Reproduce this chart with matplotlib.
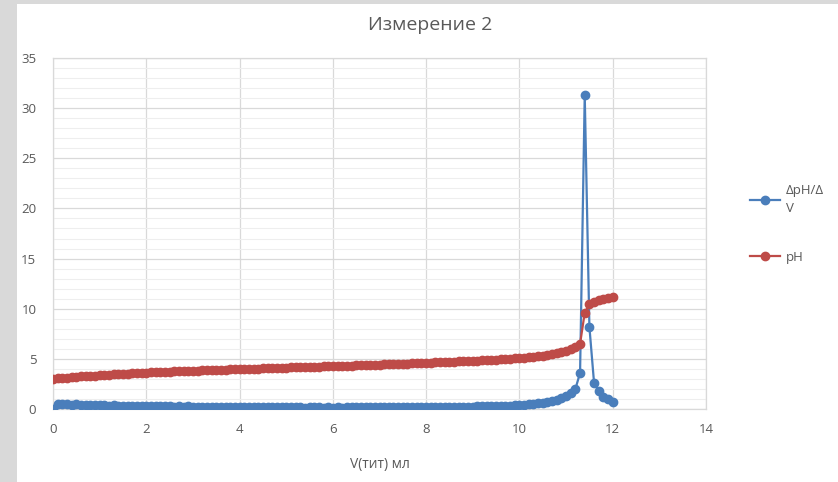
import matplotlib
matplotlib.use("Agg")
import matplotlib.pyplot as plt
from matplotlib.patches import Rectangle

plt.rcParams['font.family'] = ['Open Sans', 'DejaVu Sans']

volume = [0.0, 0.1, 0.2, 0.3, 0.4, 0.5, 0.6, 0.7, 0.8, 0.9,
          1.0, 1.1, 1.2, 1.3, 1.4, 1.5, 1.6, 1.7, 1.8, 1.9,
          2.0, 2.1, 2.2, 2.3, 2.4, 2.5, 2.6, 2.7, 2.8, 2.9,
          3.0, 3.1, 3.2, 3.3, 3.4, 3.5, 3.6, 3.7, 3.8, 3.9,
          4.0, 4.1, 4.2, 4.3, 4.4, 4.5, 4.6, 4.7, 4.8, 4.9,
          5.0, 5.1, 5.2, 5.3, 5.4, 5.5, 5.6, 5.7, 5.8, 5.9,
          6.0, 6.1, 6.2, 6.3, 6.4, 6.5, 6.6, 6.7, 6.8, 6.9,
          7.0, 7.1, 7.2, 7.3, 7.4, 7.5, 7.6, 7.7, 7.8, 7.9,
          8.0, 8.1, 8.2, 8.3, 8.4, 8.5, 8.6, 8.7, 8.8, 8.9,
          9.0, 9.1, 9.2, 9.3, 9.4, 9.5, 9.6, 9.7, 9.8, 9.9,
          10.0, 10.1, 10.2, 10.3, 10.4, 10.5, 10.6, 10.7, 10.8, 10.9,
          11.0, 11.1, 11.2, 11.3, 11.4, 11.5, 11.6, 11.7, 11.8, 11.9,
          12.0]

dph_dv = [0.00, 0.50, 0.45, 0.48, 0.42, 0.45, 0.40, 0.38, 0.41, 0.36,
          0.40, 0.38, 0.33, 0.36, 0.30, 0.34, 0.30, 0.32, 0.28, 0.31,
          0.27, 0.30, 0.26, 0.28, 0.25, 0.27, 0.24, 0.26, 0.22, 0.25,
          0.22, 0.23, 0.20, 0.22, 0.19, 0.21, 0.19, 0.22, 0.18, 0.20,
          0.17, 0.20, 0.17, 0.19, 0.16, 0.18, 0.16, 0.18, 0.15, 0.17,
          0.15, 0.17, 0.15, 0.16, 0.14, 0.16, 0.15, 0.17, 0.14, 0.16,
          0.14, 0.16, 0.14, 0.16, 0.15, 0.17, 0.15, 0.17, 0.15, 0.17,
          0.15, 0.17, 0.16, 0.18, 0.16, 0.18, 0.17, 0.19, 0.17, 0.19,
          0.18, 0.20, 0.19, 0.21, 0.20, 0.22, 0.21, 0.23, 0.22, 0.24,
          0.24, 0.26, 0.26, 0.28, 0.28, 0.30, 0.31, 0.33, 0.34, 0.37,
          0.39, 0.42, 0.46, 0.50, 0.55, 0.62, 0.70, 0.80, 0.92, 1.10,
          1.30, 1.60, 2.00, 3.60, 31.30, 8.20, 2.60, 1.80, 1.20, 1.00,
          0.70]

ph = [3.00, 3.05, 3.09, 3.13, 3.17, 3.21, 3.25, 3.28, 3.31, 3.34,
      3.37, 3.40, 3.43, 3.46, 3.48, 3.51, 3.53, 3.56, 3.58, 3.60,
      3.62, 3.64, 3.66, 3.68, 3.70, 3.72, 3.74, 3.76, 3.77, 3.79,
      3.81, 3.83, 3.84, 3.86, 3.88, 3.89, 3.91, 3.93, 3.94, 3.96,
      3.97, 3.99, 4.00, 4.02, 4.03, 4.05, 4.06, 4.08, 4.09, 4.11,
      4.12, 4.14, 4.15, 4.17, 4.18, 4.20, 4.21, 4.23, 4.24, 4.26,
      4.27, 4.29, 4.30, 4.32, 4.33, 4.35, 4.36, 4.38, 4.40, 4.41,
      4.43, 4.44, 4.46, 4.48, 4.49, 4.51, 4.53, 4.55, 4.56, 4.58,
      4.60, 4.62, 4.64, 4.66, 4.68, 4.70, 4.72, 4.74, 4.76, 4.78,
      4.80, 4.83, 4.85, 4.88, 4.90, 4.93, 4.96, 4.99, 5.02, 5.05,
      5.09, 5.13, 5.17, 5.22, 5.27, 5.33, 5.40, 5.48, 5.57, 5.68,
      5.81, 5.97, 6.17, 6.50, 9.60, 10.45, 10.68, 10.85, 10.96, 11.05,
      11.12]

series_labels = ["ΔpH/Δ\nV", "pH"]
title = "Измерение 2"
xlabel = "V(тит) мл"

blue = "#4a7ebb"
red = "#be4b48"
text_col = "#595959"

fig = plt.figure(figsize=(8.38, 4.82), dpi=100)
fig.patch.set_facecolor("#d9d9d9")
bg = Rectangle((17 / 838, 0), 1 - 17 / 838, 1 - 4 / 482,
               transform=fig.transFigure, facecolor="white",
               edgecolor="none", zorder=-10)
fig.add_artist(bg)

ax = fig.add_axes([53 / 838, 1 - 409 / 482, (706 - 53) / 838, (409 - 58) / 482])
ax.set_facecolor("white")
ax.set_zorder(1)

ax.plot(volume, dph_dv, color=blue, lw=1.6, marker="o", ms=6,
        label=series_labels[0], zorder=3)
ax.plot(volume, ph, color=red, lw=1.6, marker="o", ms=6,
        label=series_labels[1], zorder=4)

ax.set_xlim(0, 14)
ax.set_ylim(0, 35)
ax.set_xticks(range(0, 15, 2))
ax.set_yticks(range(0, 36, 5))
ax.set_yticks(range(0, 36, 1), minor=True)
ax.grid(which="major", color="#d9d9d9", lw=0.9, zorder=0)
ax.grid(which="minor", axis="y", color="#eeeeee", lw=0.8, zorder=0)
ax.grid(which="minor", axis="x", visible=False)
ax.set_axisbelow(True)
for s in ax.spines.values():
    s.set_color("#d9d9d9")
    s.set_linewidth(0.9)
ax.tick_params(which="both", length=0, colors=text_col, labelsize=9.5)
ax.tick_params(axis="x", pad=10)
ax.tick_params(axis="y", pad=12)

ax.set_xlabel(xlabel, color=text_col, fontsize=10, labelpad=15)
fig.text(430 / 838, 1 - 25 / 482, title, ha="center", va="center",
         color=text_col, fontsize=14, zorder=5)

leg = ax.legend(loc="center left", bbox_to_anchor=(738 / 838, 1 - 224 / 482),
                bbox_transform=fig.transFigure, frameon=False, fontsize=9.5,
                handlelength=2.3, handletextpad=0.4, labelspacing=2.7,
                labelcolor=text_col)
for t in leg.get_texts():
    t.set_linespacing(1.5)

fig.savefig("out.png", dpi=100)
